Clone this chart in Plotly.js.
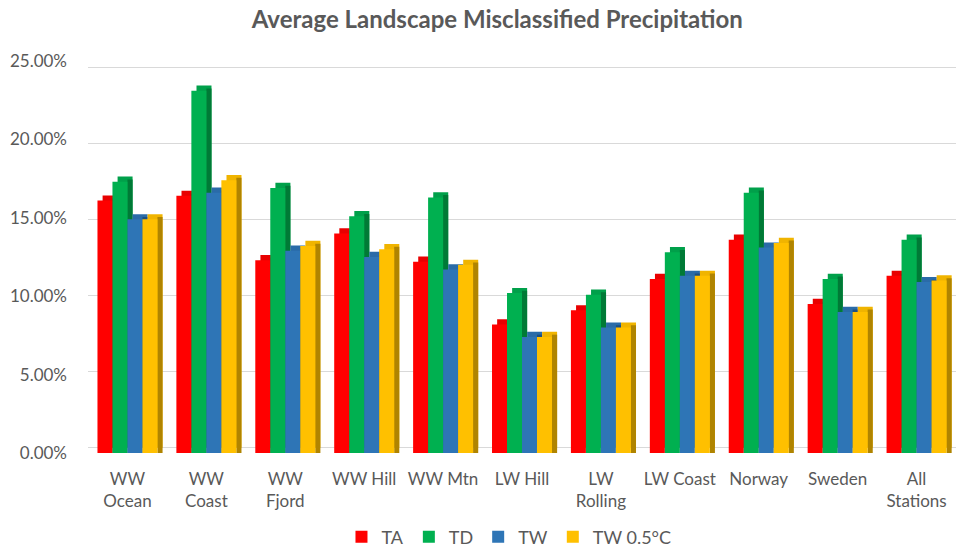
<!DOCTYPE html>
<html>
<head>
<meta charset="utf-8">
<script src="https://cdn.plot.ly/plotly-3.0.1.min.js"></script>
<style>html,body{margin:0;padding:0;background:#fff}#chart{width:960px;height:548px}</style>
</head>
<body>
<div id="chart"></div>
<script>
const categories = ["WW<br>Ocean","WW<br>Coast","WW<br>Fjord","WW Hill","WW Mtn","LW Hill","LW<br>Rolling","LW Coast","Norway","Sweden","All<br>Stations"];
const seriesNames = ["TA","TD","TW","TW 0.5°C"];
const TA  = [0.161,0.164,0.123,0.140,0.122,0.082,0.091,0.111,0.136,0.095,0.113];
const TD  = [0.173,0.231,0.169,0.151,0.163,0.102,0.101,0.128,0.166,0.111,0.136];
const TW  = [0.149,0.166,0.129,0.125,0.117,0.074,0.080,0.113,0.131,0.090,0.109];
const TW05= [0.149,0.174,0.132,0.130,0.120,0.074,0.080,0.113,0.134,0.090,0.110];
const yTicks = [0,0.05,0.10,0.15,0.20,0.25];
const yTickText = ["0.00%","5.00%","10.00%","15.00%","20.00%","25.00%"];

const values = [TA,TD,TW,TW05];
const frontColors = ["#FF0000","#00B050","#2E75B6","#FFC000"];
const topColors   = ["#E80000","#00A04A","#2A6BA8","#F0B400"];
const sideColors  = ["#A80000","#007A36","#1E4F7E","#B08400"];
const barW = 0.19;
const depthX = 0.065;   // category units
const depthY = 0.0033;  // value units
const traces = [];
values.forEach((vals,i)=>{
  const off = -2*barW + i*barW;
  traces.push({type:'bar', x:categories, y:vals, base:vals.map(()=>depthY), width:barW, offset:off+depthX,
    marker:{color:topColors[i], line:{width:0}}, showlegend:false, hoverinfo:'skip'});
  traces.push({type:'bar', x:categories, y:vals.map(v=>v+depthY*0.45), width:depthX, offset:off+barW,
    marker:{color:sideColors[i], line:{width:0}}, showlegend:false, hoverinfo:'skip'});
  traces.push({type:'bar', name:seriesNames[i], x:categories, y:vals, width:barW, offset:off,
    marker:{color:frontColors[i], line:{width:0}}, hoverinfo:'skip'});
});
traces.push({type:'scatter', x:[categories[0]], y:[0], yaxis:'y2', mode:'markers', marker:{opacity:0}, showlegend:false, hoverinfo:'skip'});

const layout = {
  width:960, height:548,
  margin:{l:88, r:4, t:61, b:95},
  paper_bgcolor:'#fff', plot_bgcolor:'rgba(0,0,0,0)',
  barmode:'overlay',
  title:{text:'<b>Average Landscape Misclassified Precipitation</b>', x:0.518, xanchor:'center', y:0.965, yanchor:'middle',
    font:{family:'Lato, "Open Sans", sans-serif', size:24, color:'#595959'}},
  font:{family:'Lato, "Open Sans", sans-serif', color:'#595959'},
  xaxis:{type:'category', showgrid:false, zeroline:false, showline:false, ticks:'', automargin:false,
    tickfont:{size:17, color:'#595959'}, range:[-0.5,10.5], ticklabelstandoff:14},
  yaxis:{range:[0,0.25], tickvals:yTicks, ticktext:yTickText, showgrid:false, zeroline:false, showline:false,
    ticks:'', automargin:false, tickfont:{size:17, color:'#595959'}, ticklabelstandoff:20},
  yaxis2:{overlaying:'y', range:[-0.0038,0.2545], tickvals:yTicks, showticklabels:false, showgrid:true,
    gridcolor:'#D9D9D9', gridwidth:1.3, zeroline:false, showline:false, ticks:'', automargin:false},
  legend:{orientation:'h', xref:'paper', x:0.485, xanchor:'center', yref:'container', y:0.02, yanchor:'middle',
    font:{size:18, color:'#595959'}, traceorder:'normal', itemwidth:30},
  showlegend:true
};
Plotly.newPlot('chart', traces, layout, {staticPlot:true, displayModeBar:false});
</script>
</body>
</html>
